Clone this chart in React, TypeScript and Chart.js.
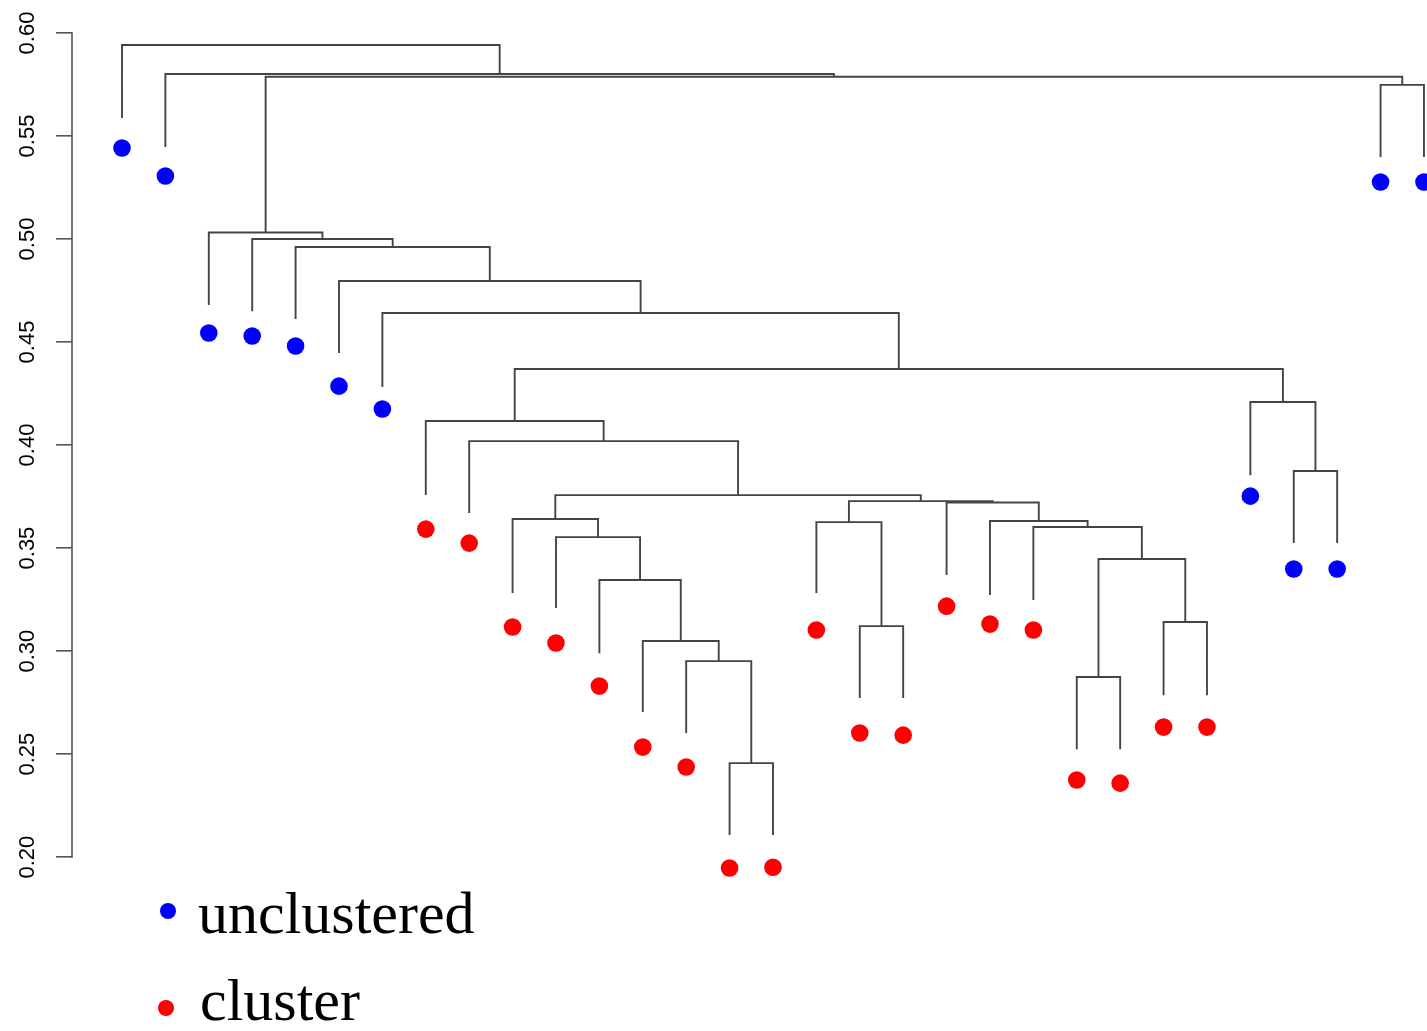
import React, { useEffect, useRef } from 'react';
import { Chart, registerables } from 'chart.js';

Chart.register(...registerables);

// Leaves in dendrogram order (x position = order index)
const leafOrder = [
  1, 2, 3, 4, 5, 6, 7, 8, 9, 10, 11, 12, 13, 14, 15, 16,
  17, 18, 19, 20, 21, 22, 23, 24, 25, 26, 27, 28, 29, 30, 31,
];
// 0 = unclustered, 1 = cluster
const leafGroup = [
  0, 0, 0, 0, 0, 0, 0, 1, 1, 1, 1, 1, 1, 1, 1, 1,
  1, 1, 1, 1, 1, 1, 1, 1, 1, 1, 0, 0, 0, 0, 0,
];
// height where each leaf branch ends
const leafHeights = [
  0.5587, 0.5447, 0.468, 0.465, 0.4612, 0.4447, 0.4282, 0.3757, 0.367, 0.3282,
  0.3209, 0.299, 0.2704, 0.2602, 0.2107, 0.2107, 0.3282, 0.2772, 0.2772, 0.3369,
  0.3272, 0.3248, 0.2524, 0.2524, 0.2786, 0.2786, 0.3854, 0.3524, 0.3524, 0.5398,
  0.5398,
];
// value of each leaf's point
const leafPointValues = [
  0.5442, 0.5306, 0.4544, 0.4529, 0.4481, 0.4286, 0.4175, 0.3592, 0.3524, 0.3117,
  0.3039, 0.283, 0.2534, 0.2437, 0.1947, 0.1951, 0.3102, 0.2602, 0.2592, 0.3218,
  0.3131, 0.3102, 0.2374, 0.2359, 0.2631, 0.2631, 0.3752, 0.3398, 0.3398, 0.5277,
  0.5277,
];
// merge table (R hclust convention: negative = leaf, positive = earlier merge)
const mergeLeft = [
  -15, -23, -14, -13, -18, -25, -12, 2, -11, -22, -17, -21, -10, -20, 11,
  13, -28, -9, -8, -27, 19, -7, -6, -5, -4, -3, -30, 26, -2, -1,
];
const mergeRight = [
  -16, -24, 1, 3, -19, -26, 4, 6, 7, 8, 5, 10, 9, 12, 14,
  15, -29, 16, 18, 17, 20, 21, 22, 23, 24, 25, -31, 27, 28, 29,
];
const mergeHeights = [
  0.2456, 0.2874, 0.2951, 0.3049, 0.3121, 0.3141, 0.3345, 0.3447, 0.3553, 0.3602,
  0.3626, 0.3631, 0.3641, 0.3721, 0.3728, 0.3757, 0.3874, 0.4019, 0.4117, 0.4209,
  0.4369, 0.4641, 0.4796, 0.4961, 0.5, 0.5032, 0.5748, 0.5788, 0.5801, 0.5942,
];
const yTickValues = [0.2, 0.25, 0.3, 0.35, 0.4, 0.45, 0.5, 0.55, 0.6];
const legendLabels = ['unclustered', 'cluster'];
const groupColors = ['#0000FF', '#FF0000'];

function buildTree() {
  const nodeX: number[] = [];
  const cx = (c: number) => (c < 0 ? leafOrder[-c - 1] : nodeX[c - 1]);
  const ch = (c: number) => (c < 0 ? leafHeights[-c - 1] : mergeHeights[c - 1]);
  const pts: { x: number; y: number | null }[] = [];
  for (let i = 0; i < mergeHeights.length; i++) {
    const l = mergeLeft[i];
    const r = mergeRight[i];
    const h = mergeHeights[i];
    const xl = cx(l);
    const xr = cx(r);
    nodeX[i] = (xl + xr) / 2;
    pts.push({ x: xl, y: ch(l) }, { x: xl, y: h }, { x: xr, y: h }, { x: xr, y: ch(r) });
    pts.push({ x: xr, y: null });
  }
  return pts;
}

// y axis line drawn only over the tick range (like R's axis())
const axisLine = {
  id: 'axisLine',
  afterDraw(chart: any, _args: any, opts: any) {
    const s = chart.scales.y;
    const ctx = chart.ctx;
    const x = s.right;
    const y0 = s.getPixelForValue(yTickValues[0]);
    const y1 = s.getPixelForValue(yTickValues[yTickValues.length - 1]);
    ctx.save();
    ctx.strokeStyle = opts.color;
    ctx.lineWidth = opts.width;
    ctx.beginPath();
    ctx.moveTo(x, y0 + opts.width / 2);
    ctx.lineTo(x, y1 - opts.width / 2);
    ctx.stroke();
    ctx.restore();
  },
};

const stackLegend = {
  id: 'stackLegend',
  afterDraw(chart: any, _args: any, opts: any) {
    const ctx = chart.ctx;
    ctx.save();
    const sets = chart.data.datasets.filter((d: any) => d.isLeafSet);
    sets.forEach((d: any, i: number) => {
      const row = opts.rows[i];
      ctx.fillStyle = d.backgroundColor;
      ctx.beginPath();
      ctx.arc(row.dotX, row.dotY, opts.dotRadius, 0, Math.PI * 2);
      ctx.fill();
      ctx.fillStyle = '#000';
      ctx.font = opts.font;
      ctx.textAlign = 'left';
      ctx.textBaseline = 'alphabetic';
      ctx.fillText(d.label, row.textX, row.baseline);
    });
    ctx.restore();
  },
};

export default function App() {
  const ref = useRef<HTMLCanvasElement | null>(null);
  useEffect(() => {
    if (!ref.current) return;
    const leafSets = legendLabels.map((label, g) => ({
      type: 'scatter' as const,
      label,
      isLeafSet: true,
      data: leafOrder
        .map((x, i) => ({ x, y: leafPointValues[i], g: leafGroup[i] }))
        .filter((p) => p.g === g)
        .map((p) => ({ x: p.x, y: p.y })),
      backgroundColor: groupColors[g],
      borderWidth: 0,
      pointRadius: 8.8,
      pointHoverRadius: 8.8,
      clip: false as any,
    }));
    const chart = new Chart(ref.current, {
      type: 'scatter',
      data: {
        datasets: [
          ...leafSets,
          {
            type: 'line',
            label: 'tree',
            data: buildTree() as any,
            borderColor: '#444',
            borderWidth: 1.9,
            pointRadius: 0,
            showLine: true,
            spanGaps: false,
            fill: false,
            tension: 0,
            clip: false as any,
          } as any,
        ],
      },
      plugins: [axisLine, stackLegend],
      options: {
        animation: false,
        responsive: false,
        devicePixelRatio: 1,
        events: [],
        layout: { autoPadding: false, padding: { top: 33, bottom: 143, left: 0, right: 0 } },
        plugins: {
          legend: { display: false },
          tooltip: { enabled: false },
          axisLine: { color: '#555', width: 1.6 },
          stackLegend: {
            dotRadius: 8,
            font: '60px "Liberation Serif", "Times New Roman", serif',
            rows: [
              { dotX: 168, dotY: 911, textX: 198, baseline: 933 },
              { dotX: 166, dotY: 1008, textX: 200, baseline: 1020 },
            ],
          },
        } as any,
        scales: {
          x: {
            type: 'linear',
            display: false,
            min: -0.152,
            max: 31.07,
          },
          y: {
            type: 'linear',
            min: 0.185,
            max: 0.6,
            afterFit: (s: any) => {
              s.width = 72;
            },
            afterBuildTicks: (s: any) => {
              s.ticks = yTickValues.map((v) => ({ value: v }));
            },
            border: { display: false },
            grid: {
              display: true,
              drawOnChartArea: false,
              drawTicks: true,
              tickLength: 16,
              color: '#555',
              lineWidth: 1.6,
            },
            ticks: {
              minRotation: 90,
              maxRotation: 90,
              crossAlign: 'center',
              padding: 7,
              color: '#000',
              font: { family: '"Liberation Sans", Arial, sans-serif', size: 22 },
              callback: (v: any) => Number(v).toFixed(2),
            },
          },
        },
      },
    });
    return () => chart.destroy();
  }, []);
  return (
    <div style={{ position: 'absolute', left: 0, top: 0, width: 1427, height: 1031, background: '#fff' }}>
      <canvas ref={ref} width={1427} height={1031} style={{ display: 'block' }} />
    </div>
  );
}
